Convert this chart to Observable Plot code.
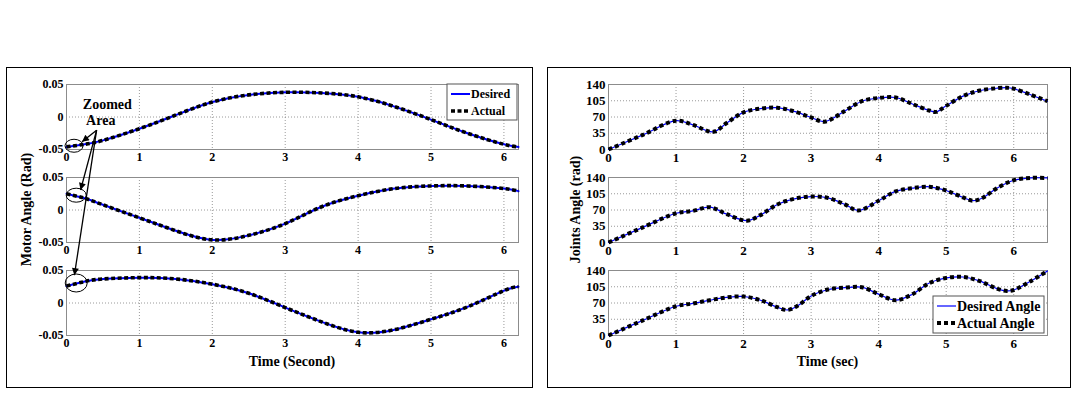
<!DOCTYPE html>
<html>
<head>
<meta charset="utf-8">
<script src="https://cdn.jsdelivr.net/npm/d3@7"></script>
<script src="https://cdn.jsdelivr.net/npm/@observablehq/plot@0.6"></script>
<style>
  body { margin: 0; background: #fff; }
  #root { position: relative; width: 1080px; height: 396px; overflow: hidden; background: #fff;
          font-family: "Liberation Serif", "Times New Roman", serif; }
  .panel { position: absolute; border: 1px solid #000; box-sizing: border-box; }
  .sub { position: absolute; }
  svg.overlay { position: absolute; left: 0; top: 0; pointer-events: none; overflow: visible; }
</style>
</head>
<body>
<div id="root"></div>
<script>
// ---------- Motor angles (rad) vs time (s) ----------
const motorTime = [0, 0.25, 0.5, 1, 1.5, 2, 2.5, 3, 3.5, 4, 4.5, 5, 5.5, 6, 6.2];
const motor1 = [-0.046, -0.042, -0.036, -0.018, 0.003, 0.023, 0.034, 0.038, 0.037, 0.031, 0.016, -0.004, -0.025, -0.042, -0.046];
const motor2 = [0.025, 0.018, 0.008, -0.012, -0.032, -0.046, -0.039, -0.021, 0.005, 0.022, 0.033, 0.037, 0.037, 0.033, 0.029];
const motor3 = [0.026, 0.033, 0.037, 0.039, 0.037, 0.029, 0.015, -0.007, -0.029, -0.045, -0.041, -0.025, -0.006, 0.019, 0.025];
const motorXTicks = [0, 1, 2, 3, 4, 5, 6];
const motorYTicks = [-0.05, 0, 0.05];

// ---------- Joint angles vs time (s) ----------
const joint1Time = [0, 0.5, 1.0, 1.25, 1.55, 1.75, 2.0, 2.25, 2.5, 2.75, 3.0, 3.2, 3.5, 3.75, 4.0, 4.25, 4.5, 4.75, 4.85, 5.0, 5.25, 5.5, 5.75, 5.9, 6.0, 6.25, 6.5];
const joint1 = [0, 31, 62, 53, 38, 57, 80, 88, 90, 82, 69, 60, 83, 104, 111, 112, 98, 84, 81, 94, 115, 127, 132, 133, 131, 118, 104];
const joint2Time = [0, 0.5, 1.0, 1.25, 1.5, 1.75, 2.05, 2.25, 2.5, 2.75, 3.0, 3.25, 3.5, 3.7, 4.0, 4.25, 4.5, 4.75, 5.0, 5.25, 5.4, 5.55, 5.75, 6.0, 6.25, 6.5];
const joint2 = [0, 32, 63, 68, 76, 61, 47, 59, 82, 94, 99, 96, 82, 69, 90, 110, 117, 120, 112, 97, 90, 97, 117, 134, 139, 139];
const joint3Time = [0, 0.5, 1.0, 1.25, 1.5, 1.75, 2.0, 2.25, 2.5, 2.65, 2.8, 3.0, 3.25, 3.5, 3.75, 4.0, 4.25, 4.5, 4.75, 5.0, 5.25, 5.5, 5.75, 5.9, 6.0, 6.25, 6.5];
const joint3 = [0, 32, 63, 69, 76, 82, 84, 76, 61, 55, 64, 85, 99, 103, 104, 89, 76, 89, 113, 124, 126, 117, 101, 96, 98, 117, 139];
const jointXTicks = [0, 1, 2, 3, 4, 5, 6];
const jointYTicks = [0, 35, 70, 105, 140];

// ---------- Text ----------
const motorYLabel = "Motor Angle (Rad)";
const motorXLabel = "Time (Second)";
const motorLegend = ["Desired", "Actual"];
const jointYLabel = "Joints Angle (rad)";
const jointXLabel = "Time (sec)";
const jointLegend = ["Desired Angle", "Actual Angle"];
const zoomNote = ["Zoomed", "Area"];

// Callout spots in each motor subplot's own (time, angle) coordinates
const zoomSpots = [{t: 0.11, v: -0.045}, {t: 0.14, v: 0.022}, {t: 0.14, v: 0.030}];
const zoomArrowTail = {t: 0.42, v: -0.021};
const zoomArrowHeads = [{t: 0.22, v: -0.039}, {t: 0.20, v: 0.030}, {t: 0.115, v: 0.042}];
const zoomNotePos = [{t: 0.56, v: 0.019}, {t: 0.47, v: -0.005}];

const rows = (ts, vs) => ts.map((t, i) => ({t, v: vs[i]}));

const root = document.getElementById("root");
const FONT = "Liberation Serif, Times New Roman, serif";

function panelBox(left, top, w, h) {
  const d = document.createElement("div");
  d.className = "panel";
  Object.assign(d.style, {left: left + "px", top: top + "px", width: w + "px", height: h + "px"});
  root.appendChild(d);
}
panelBox(6, 67, 527, 321);
panelBox(547, 67, 524, 321);

const MT = 8, MB = 22, FH = 65;
const frameTops = [84, 177, 270];

function subplot(cfg) {
  const p = Plot.plot({
    width: 540,
    height: FH + MT + MB,
    marginTop: MT, marginBottom: MB,
    marginLeft: cfg.marginLeft, marginRight: cfg.marginRight,
    style: {fontFamily: FONT, fontWeight: "bold", fontSize: cfg.fontSize, color: "#000",
            background: "transparent", overflow: "visible"},
    x: {domain: cfg.xDomain, ticks: cfg.xTicks, tickSize: 0, tickPadding: 3, label: null, tickFormat: d => String(d)},
    y: {domain: cfg.yDomain, ticks: cfg.yTicks, tickSize: 0, tickPadding: 3, label: null, tickFormat: d => String(d)},
    marks: [
      Plot.ruleX(cfg.xTicks, {stroke: "#808080", strokeWidth: 0.8, strokeDasharray: "1,2"}),
      Plot.ruleY(cfg.yTicks, {stroke: "#808080", strokeWidth: 0.8, strokeDasharray: "1,2"}),
      Plot.frame({stroke: "#8c8c8c", strokeWidth: 1}),
      Plot.line(cfg.data, {x: "t", y: "v", stroke: "#0000ff", strokeWidth: cfg.desiredWidth, curve: cfg.curve}),
      Plot.line(cfg.data, {x: "t", y: "v", stroke: "#000", strokeWidth: cfg.actualWidth,
                           strokeDasharray: cfg.dash, strokeLinecap: "butt", curve: cfg.curve}),
      ...(cfg.extra || [])
    ]
  });
  p.classList.add("sub");
  p.style.left = cfg.left + "px";
  p.style.top = (cfg.frameTop - MT) + "px";
  root.appendChild(p);
  return {plot: p, left: cfg.left, top: cfg.frameTop - MT, x: p.scale("x"), y: p.scale("y")};
}

const motorSeries = [motor1, motor2, motor3];
const motorPlots = motorSeries.map((vals, i) => subplot({
  data: rows(motorTime, vals),
  left: 0, frameTop: frameTops[i],
  marginLeft: 66, marginRight: 22,
  xDomain: [0, 6.2], yDomain: [-0.05, 0.05],
  xTicks: motorXTicks, yTicks: motorYTicks,
  fontSize: "12px", desiredWidth: 2, actualWidth: 3.6, dash: "4,2.5", curve: "natural",
  extra: i === 0 ? [
    Plot.text(zoomNotePos.map((p, k) => ({...p, s: zoomNote[k]})),
              {x: "t", y: "v", text: "s", fontSize: 14, fontWeight: "bold", fill: "#000"})
  ] : []
}));

const jointSeries = [rows(joint1Time, joint1), rows(joint2Time, joint2), rows(joint3Time, joint3)];
const jointPlots = jointSeries.map((data, i) => subplot({
  data,
  left: 540, frameTop: frameTops[i],
  marginLeft: 68, marginRight: 33,
  xDomain: [0, 6.5], yDomain: [0, 140],
  xTicks: jointXTicks, yTicks: jointYTicks,
  fontSize: "13px", desiredWidth: 1.2, actualWidth: 4, dash: "4,3", curve: "catmull-rom"
}));

// ---------- Overlay: callouts, legends, axis titles ----------
const ov = d3.select(root).append("svg").attr("class", "overlay")
  .attr("width", 1080).attr("height", 396);
ov.append("defs").append("marker")
  .attr("id", "head").attr("viewBox", "0 0 10 10").attr("refX", 10).attr("refY", 5)
  .attr("markerUnits", "userSpaceOnUse").attr("markerWidth", 9).attr("markerHeight", 7)
  .attr("orient", "auto")
  .append("path").attr("d", "M0,0L10,5L0,10z").attr("fill", "#000");

const px = (sp, p) => [sp.left + sp.x.apply(p.t), sp.top + sp.y.apply(p.v)];
const frameOf = sp => {
  const [x0, x1] = sp.x.range, [y0, y1] = sp.y.range;
  return {left: sp.left + Math.min(x0, x1), right: sp.left + Math.max(x0, x1),
          top: sp.top + Math.min(y0, y1), bottom: sp.top + Math.max(y0, y1)};
};

const ellR = [[9, 6.5], [10, 7], [11, 9]];
zoomSpots.forEach((s, i) => {
  const [cx, cy] = px(motorPlots[i], s);
  ov.append("ellipse").attr("cx", cx).attr("cy", cy).attr("rx", ellR[i][0]).attr("ry", ellR[i][1])
    .attr("fill", "none").attr("stroke", "#000").attr("stroke-width", 1);
});
const [tx, ty] = px(motorPlots[0], zoomArrowTail);
zoomArrowHeads.forEach((h, i) => {
  const [hx, hy] = px(motorPlots[i], h);
  ov.append("line").attr("x1", tx).attr("y1", ty).attr("x2", hx).attr("y2", hy)
    .attr("stroke", "#000").attr("stroke-width", 1.3).attr("marker-end", "url(#head)");
});

function legend(sp, labels, o) {
  const f = frameOf(sp);
  const bx = f.right - o.rightGap - o.w, by = o.atBottom ? f.bottom - o.bottomGap - o.h : f.top + o.topGap;
  const g = ov.append("g");
  g.append("rect").attr("x", bx).attr("y", by).attr("width", o.w).attr("height", o.h)
    .attr("fill", "#fff").attr("stroke", "#555").attr("stroke-width", 1);
  labels.forEach((lab, k) => {
    const yy = by + o.rows[k];
    g.append("line").attr("x1", bx + o.lx0).attr("x2", bx + o.lx1).attr("y1", yy).attr("y2", yy)
      .attr("stroke", k === 0 ? "#0000ff" : "#000")
      .attr("stroke-width", k === 0 ? o.dw : o.aw)
      .attr("stroke-dasharray", k === 0 ? null : o.dash);
    g.append("text").attr("x", bx + o.tx).attr("y", yy).attr("dy", "0.35em")
      .attr("font-family", FONT).attr("font-weight", "bold").attr("font-size", o.fs).text(lab);
  });
}
legend(motorPlots[0], motorLegend,
  {w: 70, h: 36, rightGap: 1, topGap: 0, rows: [10, 27], lx0: 4, lx1: 23, tx: 24,
   fs: 12, dw: 2, aw: 3.6, dash: "4,2.5"});
legend(jointPlots[2], jointLegend,
  {w: 111, h: 37, rightGap: 3, bottomGap: 2, atBottom: true, rows: [10, 27], lx0: 4, lx1: 23, tx: 24,
   fs: 14, dw: 1.2, aw: 4, dash: "4,3"});

function axisTitles(plots, xl, yl, yx) {
  const fTop = frameOf(plots[0]), fBot = frameOf(plots[2]);
  ov.append("text").attr("x", (fBot.left + fBot.right) / 2).attr("y", fBot.bottom + 26)
    .attr("text-anchor", "middle").attr("dy", "0.35em")
    .attr("font-family", FONT).attr("font-weight", "bold").attr("font-size", 14).text(xl);
  const cy = (fTop.top + fBot.bottom) / 2;
  ov.append("text").attr("transform", `translate(${yx},${cy}) rotate(-90)`)
    .attr("text-anchor", "middle").attr("dy", "0.35em")
    .attr("font-family", FONT).attr("font-weight", "bold").attr("font-size", 14).text(yl);
}
axisTitles(motorPlots, motorXLabel, motorYLabel, 26);
axisTitles(jointPlots, jointXLabel, jointYLabel, 575);
</script>
</body>
</html>
